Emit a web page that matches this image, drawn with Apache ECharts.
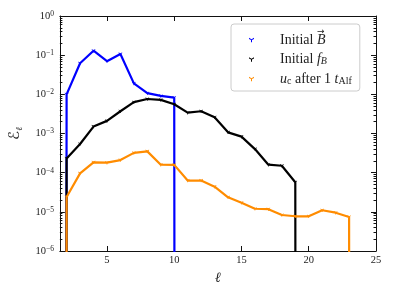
<!DOCTYPE html>
<html><head><meta charset="utf-8">
<script src="https://cdn.jsdelivr.net/npm/echarts@6/dist/echarts.min.js"></script>
<style>html,body{margin:0;padding:0;background:#fff}#c{width:396px;height:297px}</style>
</head><body><div id="c"></div>
<script>
// multipole index ℓ
const ell = [1,2,3,4,5,6,7,8,9,10,11,12,13,14,15,16,17,18,19,20,21,22,23,24];
// Initial B (zero beyond ℓ=10)
const initialB = [0,0.0100,0.062,0.13,0.070,0.107,0.019,0.0107,0.0091,0.0082,0,0,0,0,0,0,0,0,0,0,0,0,0,0];
// Initial f_B
const initialFB = [0,2.3e-4,5.4e-4,1.5e-3,2.1e-3,3.7e-3,6.3e-3,7.6e-3,7.2e-3,5.6e-3,3.4e-3,3.7e-3,2.6e-3,1.07e-3,8.3e-4,4.0e-4,1.6e-4,1.5e-4,5.7e-5,0,0,0,0,0];
// u_c after 1 t_Alf
const ucAfter = [0,2.4e-5,9.6e-5,1.84e-4,1.8e-4,2.1e-4,3.2e-4,3.5e-4,1.6e-4,1.58e-4,6.3e-5,6.3e-5,4.4e-5,2.35e-5,1.7e-5,1.2e-5,1.17e-5,8.3e-6,7.7e-6,7.7e-6,1.1e-5,9.5e-6,7.4e-6,0];

const seriesNames = ['Initial B', 'Initial fB', 'uc after 1 tAlf'];
const seriesColors = ['#0000ff', '#000000', '#ff8c00'];
const xTicks = [5,10,15,20,25];
const yMajor = [1e-6,1e-5,1e-4,1e-3,1e-2,1e-1,1];
const yMinor = [];
for (let d = -6; d < 0; d++) for (let k = 2; k <= 9; k++) yMinor.push(k * Math.pow(10, d));

const TINY = 1e-300; // stands in for zero on the log axis
function pairs(arr){ return ell.map((l,i)=>[l, arr[i] > 0 ? arr[i] : TINY]); }

const triDown = 'path://M0,1.2 L5,4.2 L10,1.2 L10,3.4 L6,5.7 L6,10 L4,10 L4,5.7 L0,3.4 Z';
const SERIF = '"Liberation Serif","DejaVu Serif",serif';
const tc = '#222';

const legendRich = {
  sp:{width:21, lineHeight:14},
  r:{fontFamily:SERIF,fontSize:14,color:tc,lineHeight:14},
  i:{fontFamily:SERIF,fontSize:14,fontStyle:'italic',color:tc,lineHeight:14},
  sub:{fontFamily:SERIF,fontSize:10,fontStyle:'italic',color:tc,lineHeight:8,verticalAlign:'bottom'},
  subr:{fontFamily:SERIF,fontSize:10,color:tc,lineHeight:8,verticalAlign:'bottom'}
};
const legendText = {
  'Initial B':'{sp| }{r|Initial }{i|B}',
  'Initial fB':'{sp| }{r|Initial }{i|f}{sub|B}',
  'uc after 1 tAlf':'{sp| }{i|u}{subr|c}{r| after 1 }{i|t}{subr|Alf}'
};

function expLabel(v){
  const e = Math.round(Math.log10(v));
  return '{b|10}{e|' + (e < 0 ? '\u2212' + (-e) : e) + '}';
}
const labelRich = {
  b:{fontFamily:SERIF,fontSize:10.5,color:tc,lineHeight:12},
  e:{fontFamily:SERIF,fontSize:7.5,color:tc,lineHeight:6,verticalAlign:'top'}
};

const axLine = {show:true,onZero:false,lineStyle:{color:'#111',width:1}};
function yAx(pos, vals, len, labels, line){
  return {
    type:'log', logBase:10, min:1e-6, max:1, position:pos,
    axisLine: line ? axLine : {show:false},
    splitLine:{show:false}, minorTick:{show:false},
    axisTick:{show:true,inside:true,length:len,customValues:vals,lineStyle:{color:'#111',width:1}},
    axisLabel: labels ? {show:true,customValues:yMajor,margin:6,formatter:expLabel,rich:labelRich} : {show:false}
  };
}
function xAx(pos, labels){
  return {
    type:'value', min:1.5, max:25, position:pos,
    axisLine:axLine, splitLine:{show:false},
    axisTick:{show:true,inside:true,length:5,customValues:xTicks,lineStyle:{color:'#111',width:1}},
    axisLabel: labels ? {show:true,customValues:xTicks,margin:4,fontFamily:SERIF,fontSize:10.5,color:tc} : {show:false}
  };
}

const xAxes = [xAx('bottom', true), xAx('top', false)];
xAxes[0].name = '\u2113';
xAxes[0].nameLocation = 'middle';
xAxes[0].nameGap = 20;
xAxes[0].nameTextStyle = {fontFamily:'"DejaVu Serif",serif',fontStyle:'italic',fontSize:14,color:tc};

const yAxes = [yAx('left', yMajor, 5, true, true), yAx('left', yMinor, 2.5, false, false),
               yAx('right', yMajor, 5, false, true), yAx('right', yMinor, 2.5, false, false)];
yAxes[0].name = '{c|\u2130}{s|\u2113}';
yAxes[0].nameLocation = 'middle';
yAxes[0].nameGap = 33;
yAxes[0].nameTextStyle = {rich:{
  c:{fontFamily:'"DejaVu Serif","DejaVu Sans",serif',fontSize:15,color:tc,lineHeight:18},
  s:{fontFamily:'"DejaVu Serif",serif',fontStyle:'italic',fontSize:9,color:tc,lineHeight:8,verticalAlign:'bottom'}
}};

const data = [initialB, initialFB, ucAfter];
const chart = echarts.init(document.getElementById('c'), null, {renderer:'canvas'});
chart.setOption({
  animation:false,
  backgroundColor:'#fff',
  grid:{left:57,right:20,top:16,bottom:46},
  xAxis:xAxes,
  yAxis:yAxes,
  legend:{
    left:231, top:24, orient:'vertical',
    padding:[9,8,5,18], itemGap:5.5, itemWidth:5, itemHeight:5,
    backgroundColor:'rgba(255,255,255,0.85)', borderColor:'#cccccc', borderWidth:1, borderRadius:3,
    data: seriesNames.map((n,i)=>({name:n, icon:triDown, itemStyle:{color:seriesColors[i]}})),
    formatter: n => legendText[n],
    textStyle:{rich:legendRich}
  },
  graphic:[{type:'text', left:317, top:27, z:100,
    style:{text:'\u2192', font:'9px "DejaVu Sans",sans-serif', fill:tc}}],
  series: seriesNames.map((n,i)=>({
    name:n, type:'line', xAxisIndex:0, yAxisIndex:0, data:pairs(data[i]),
    clip:true, symbol:triDown, symbolSize:3.5, showSymbol:true,
    itemStyle:{color:seriesColors[i]},
    lineStyle:{color:seriesColors[i],width:2.2},
    z: 2+i
  }))
});
</script>
</body></html>
